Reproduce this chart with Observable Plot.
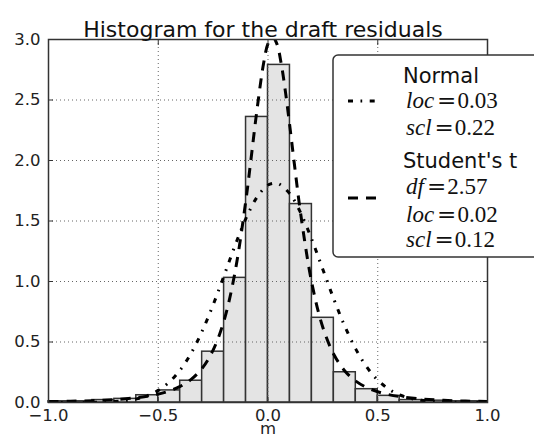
<!DOCTYPE html>
<html><head><meta charset="utf-8">
<script src="https://cdn.jsdelivr.net/npm/d3@7"></script>
<script src="https://cdn.jsdelivr.net/npm/@observablehq/plot@0.6"></script>
<style>
body{margin:0;background:#fff;}
#wrap{position:relative;width:534px;height:441px;overflow:hidden;background:#fff;}
#legend{position:absolute;left:0;top:0;}
</style></head><body><div id="wrap"></div>
<script>
// ---- data ----
const binEdges = [-1.0,-0.9,-0.8,-0.7,-0.6,-0.5,-0.4,-0.3,-0.2,-0.1,0.0,0.1,0.2,0.3,0.4,0.5,0.6,0.7,0.8,0.9,1.0];
const density  = [0.01,0.01,0.02,0.03,0.06,0.10,0.18,0.42,1.03,2.36,2.79,1.64,0.70,0.25,0.11,0.055,0.02,0.015,0.01,0.01];

const normalX = [-1.0,-0.9,-0.8,-0.75,-0.7,-0.65,-0.6,-0.55,-0.5,-0.45,-0.4,-0.35,-0.3,-0.25,-0.2,-0.15,-0.1,-0.05,0.0,0.03,0.05,0.1,0.15,0.2,0.25,0.3,0.35,0.4,0.45,0.5,0.55,0.6,0.65,0.7,0.75,0.8,0.9,1.0];
const normalY = [0.0000,0.0002,0.0015,0.0034,0.0074,0.0153,0.030,0.056,0.100,0.168,0.269,0.408,0.589,0.807,1.050,1.298,1.523,1.697,1.797,1.813,1.806,1.724,1.563,1.345,1.100,0.854,0.630,0.441,0.293,0.185,0.111,0.063,0.034,0.018,0.0086,0.0040,0.0007,0.0001];

const tX = [-1.0,-0.9,-0.8,-0.7,-0.6,-0.55,-0.5,-0.45,-0.4,-0.35,-0.3,-0.25,-0.2,-0.15,-0.1,-0.08,-0.05,-0.02,0.0,0.02,0.04,0.06,0.08,0.1,0.12,0.15,0.2,0.25,0.3,0.35,0.4,0.45,0.5,0.55,0.6,0.7,0.8,0.9,1.0];
const tY = [0.0074,0.0105,0.0155,0.024,0.039,0.052,0.069,0.095,0.133,0.191,0.283,0.433,0.679,1.079,1.681,1.973,2.421,2.803,2.966,3.023,2.966,2.803,2.561,2.274,1.973,1.545,0.984,0.620,0.397,0.261,0.177,0.124,0.089,0.065,0.049,0.029,0.018,0.012,0.0084];

const xTicks = [-1.0,-0.5,0.0,0.5,1.0];
const yTicks = [0.0,0.5,1.0,1.5,2.0,2.5,3.0];
const xGrid = [-0.5,0.0,0.5];
const yGrid = [0.5,1.0,1.5,2.0,2.5];
const title = "Histogram for the draft residuals";
const xLabel = "m";
const normalName = "Normal";
const normalParams = [["loc","0.03"],["scl","0.22"]];
const tName = "Student's t";
const tParams = [["df","2.57"],["loc","0.02"],["scl","0.12"]];

// ---- build ----
const bars = density.map((v,i)=>({x1: binEdges[i], x2: binEdges[i+1], y: v}));
const normal = normalX.map((x,i)=>({x, y: normalY[i]}));
const tdist = tX.map((x,i)=>({x, y: tY[i]}));
const fmt = d3.format(".1f");
const tickOpts = {tickSize: -5, tickFormat: () => "", label: null, stroke: "#333"};

const plot = Plot.plot({
  width: 534, height: 441,
  marginLeft: 48, marginRight: 47, marginTop: 39, marginBottom: 39,
  x: {domain: [-1, 1]},
  y: {domain: [0, 3]},
  style: {fontFamily: "DejaVu Sans", fontSize: "16.5px", color: "#222", background: "white"},
  marks: [
    Plot.rectY(bars, {x1: "x1", x2: "x2", y1: 0, y2: "y", fill: "#e4e4e4", stroke: "#333", strokeWidth: 1.5}),
    Plot.gridX(xGrid, {stroke: "#666", strokeOpacity: 1, strokeWidth: 1, strokeDasharray: "1,3"}),
    Plot.gridY(yGrid, {stroke: "#666", strokeOpacity: 1, strokeWidth: 1, strokeDasharray: "1,3"}),
    Plot.line(normal, {x: "x", y: "y", curve: "catmull-rom", stroke: "#000", strokeWidth: 3, strokeLinecap: "butt", strokeDasharray: "5,7.5,1.7,7.5", clip: true}),
    Plot.line(tdist, {x: "x", y: "y", curve: "catmull-rom", stroke: "#000", strokeWidth: 3, strokeLinecap: "butt", strokeDasharray: "10,8", clip: true}),
    Plot.frame({stroke: "#333", strokeWidth: 1.5}),
    Plot.axisX(xTicks, {tickSize: 0, tickPadding: 7, tickFormat: fmt, label: null}),
    Plot.axisY(yTicks, {tickSize: 0, tickPadding: 8, tickFormat: fmt, label: null}),
    Plot.axisX(xTicks, {anchor: "bottom", ...tickOpts}),
    Plot.axisX(xTicks, {anchor: "top", ...tickOpts}),
    Plot.axisY(yTicks, {anchor: "left", ...tickOpts}),
    Plot.axisY(yTicks, {anchor: "right", ...tickOpts}),
    Plot.text([title], {frameAnchor: "top", dy: -18.5, dx: -5, fontSize: 22, fill: "#111"}),
    Plot.text([xLabel], {frameAnchor: "bottom", dy: 31, fontSize: 16.5, fill: "#222"})
  ]
});
const wrap = document.getElementById("wrap");
wrap.appendChild(plot);

// ---- legend overlay ----
const ns = "http://www.w3.org/2000/svg";
const lg = document.createElementNS(ns, "svg");
lg.setAttribute("id", "legend");
lg.setAttribute("width", 534); lg.setAttribute("height", 441);
function el(tag, attrs, parent){ const e = document.createElementNS(ns, tag); for (const k in attrs) e.setAttribute(k, attrs[k]); (parent||lg).appendChild(e); return e; }
el("rect", {x: 333, y: 55, width: 230, height: 202, rx: 5, fill: "#fff", stroke: "#333", "stroke-width": 1.5});
el("line", {x1: 348, x2: 378, y1: 101, y2: 101, stroke: "#000", "stroke-width": 3, "stroke-dasharray": "5,7.5,1.7,7.5"});
el("line", {x1: 348, x2: 378, y1: 198, y2: 198, stroke: "#000", "stroke-width": 3, "stroke-dasharray": "10,8"});
function label(txt, y){ const t = el("text", {x: 403, y, "font-family": "DejaVu Sans", "font-size": 21, fill: "#111"}); t.textContent = txt; }
function param(p, y){
  const t = el("text", {x: 406, y, "font-size": 23, fill: "#111"});
  const a = el("tspan", {"font-family": "Liberation Serif", "font-style": "italic"}, t); a.textContent = p[0];
  const b = el("tspan", {"font-family": "DejaVu Serif", dx: 3}, t); b.textContent = "=";
  const c = el("tspan", {"font-family": "Liberation Serif", dx: 1}, t); c.textContent = p[1];
}
label(normalName, 82.7);
normalParams.forEach((p,i)=>param(p, [108, 135][i]));
label(tName, 168);
tParams.forEach((p,i)=>param(p, [194, 221.7, 247.3][i]));
wrap.appendChild(lg);
</script></body></html>
